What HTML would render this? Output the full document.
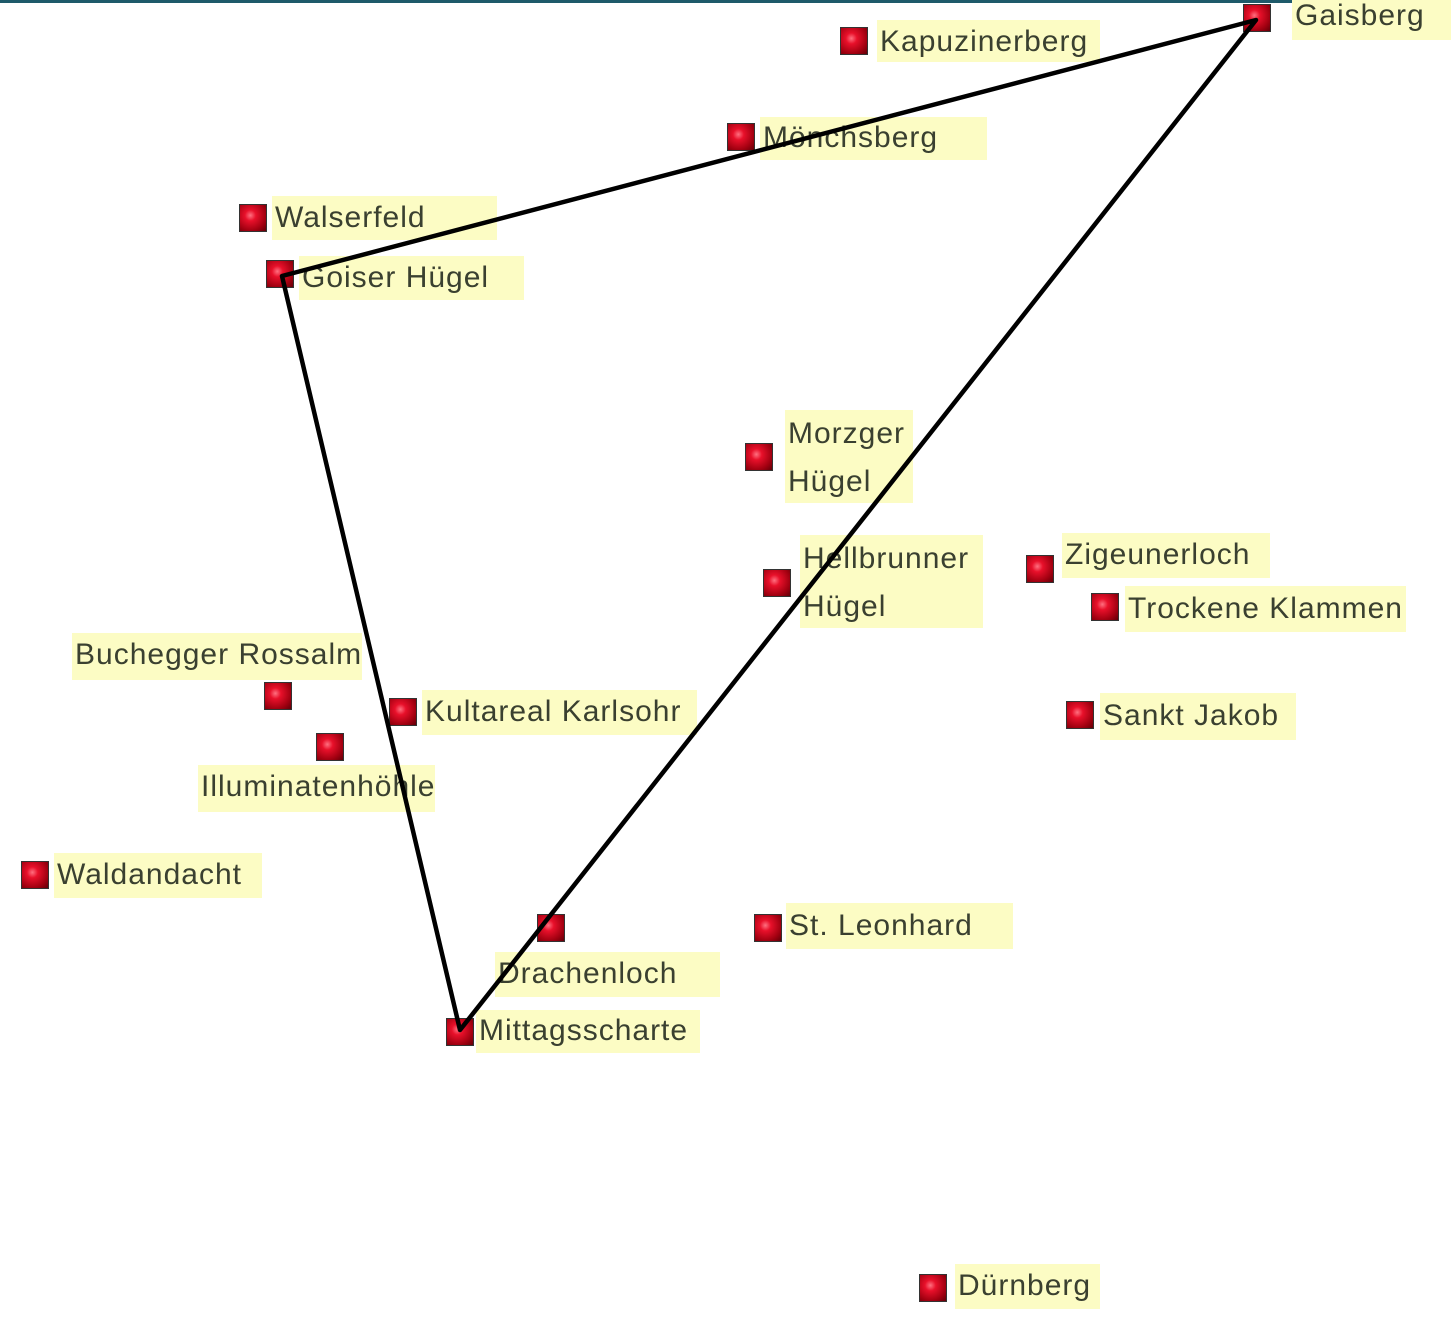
<!DOCTYPE html>
<html><head><meta charset="utf-8"><style>
html,body{margin:0;padding:0}
body{width:1451px;height:1317px;position:relative;background:#fff;overflow:hidden;font-family:"Liberation Sans",sans-serif}
.top{position:absolute;left:0;top:0;width:1451px;height:3px;background:#1e5a6a}
.l{position:absolute;background:#fcfcc4;color:#3a4030;font-size:30px;line-height:48px;padding-left:3px;letter-spacing:1px;white-space:nowrap;box-sizing:border-box}
.s{position:absolute;width:26px;height:26px;border:1px solid #333;background:radial-gradient(circle at 40% 40%,#ff7080 0,#e8102a 25%,#a00010 70%,#600008 100%)}
svg{position:absolute;left:0;top:0}
</style></head><body>
<div class="top"></div>
<div class="l" style="left:1292px;top:-8px;width:159px;height:48px">Gaisberg</div>
<div class="l" style="left:877px;top:20px;width:223px;height:42px;line-height:44px">Kapuzinerberg</div>
<div class="l" style="left:760px;top:117px;width:227px;height:43px;line-height:42px">Mönchsberg</div>
<div class="l" style="left:272px;top:196px;width:225px;height:44px;line-height:44px">Walserfeld</div>
<div class="l" style="left:299px;top:256px;width:225px;height:44px;line-height:44px">Goiser Hügel</div>
<div class="l" style="left:785px;top:410px;width:128px;height:93px">Morzger<br>Hügel</div>
<div class="l" style="left:800px;top:535px;width:183px;height:93px">Hellbrunner<br>Hügel</div>
<div class="l" style="left:1062px;top:533px;width:208px;height:45px;line-height:44px">Zigeunerloch</div>
<div class="l" style="left:1125px;top:586px;width:281px;height:46px;line-height:46px">Trockene Klammen</div>
<div class="l" style="left:72px;top:633px;width:290px;height:47px;line-height:44px">Buchegger Rossalm</div>
<div class="l" style="left:422px;top:690px;width:275px;height:45px;line-height:44px">Kultareal Karlsohr</div>
<div class="l" style="left:1100px;top:693px;width:196px;height:47px;line-height:46px">Sankt Jakob</div>
<div class="l" style="left:198px;top:765px;width:237px;height:47px;line-height:44px">Illuminatenhöhle</div>
<div class="l" style="left:54px;top:853px;width:208px;height:45px;line-height:44px">Waldandacht</div>
<div class="l" style="left:495px;top:952px;width:225px;height:45px;line-height:44px">Drachenloch</div>
<div class="l" style="left:786px;top:903px;width:227px;height:46px;line-height:46px">St. Leonhard</div>
<div class="l" style="left:476px;top:1010px;width:224px;height:43px;line-height:42px">Mittagsscharte</div>
<div class="l" style="left:955px;top:1264px;width:145px;height:45px;line-height:44px">Dürnberg</div>
<div class="s" style="left:1243px;top:4px"></div>
<div class="s" style="left:840px;top:27px"></div>
<div class="s" style="left:727px;top:123px"></div>
<div class="s" style="left:239px;top:204px"></div>
<div class="s" style="left:266px;top:260px"></div>
<div class="s" style="left:745px;top:443px"></div>
<div class="s" style="left:763px;top:569px"></div>
<div class="s" style="left:1026px;top:555px"></div>
<div class="s" style="left:1091px;top:593px"></div>
<div class="s" style="left:264px;top:682px"></div>
<div class="s" style="left:389px;top:698px"></div>
<div class="s" style="left:1066px;top:701px"></div>
<div class="s" style="left:316px;top:733px"></div>
<div class="s" style="left:21px;top:861px"></div>
<div class="s" style="left:537px;top:914px"></div>
<div class="s" style="left:754px;top:914px"></div>
<div class="s" style="left:446px;top:1018px"></div>
<div class="s" style="left:919px;top:1274px"></div>
<svg width="1451" height="1317"><g stroke="#000" stroke-width="4.5" fill="none" stroke-linejoin="round">
<polygon points="282,276 1256,20 460,1030"/></g></svg>
</body></html>
